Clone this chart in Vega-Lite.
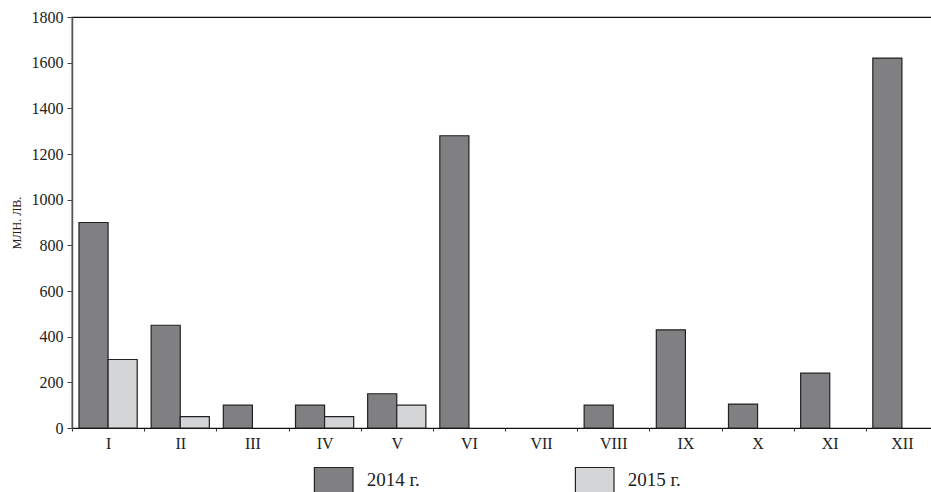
{
  "$schema": "https://vega.github.io/schema/vega-lite/v6.json",
  "autosize": {"type": "none"},
  "padding": {"left": 72, "top": 17, "right": 0, "bottom": 64},
  "width": 866,
  "height": 411,
  "background": "white",
  "config": {
    "font": "Liberation Serif",
    "view": {"stroke": "#111", "strokeWidth": 1.2}
  },
  "data": {
    "values": [
      {"month": "I", "year": "2014 г.", "value": 900},
      {"month": "I", "year": "2015 г.", "value": 300},
      {"month": "II", "year": "2014 г.", "value": 450},
      {"month": "II", "year": "2015 г.", "value": 50},
      {"month": "III", "year": "2014 г.", "value": 100},
      {"month": "IV", "year": "2014 г.", "value": 100},
      {"month": "IV", "year": "2015 г.", "value": 50},
      {"month": "V", "year": "2014 г.", "value": 150},
      {"month": "V", "year": "2015 г.", "value": 100},
      {"month": "VI", "year": "2014 г.", "value": 1280},
      {"month": "VIII", "year": "2014 г.", "value": 100},
      {"month": "IX", "year": "2014 г.", "value": 430},
      {"month": "X", "year": "2014 г.", "value": 105},
      {"month": "XI", "year": "2014 г.", "value": 240},
      {"month": "XII", "year": "2014 г.", "value": 1620}
    ]
  },
  "mark": {"type": "bar", "stroke": "#222", "strokeWidth": 1.2},
  "encoding": {
    "x": {
      "field": "month",
      "type": "nominal",
      "sort": ["I", "II", "III", "IV", "V", "VI", "VII", "VIII", "IX", "X", "XI", "XII"],
      "scale": {"domain": ["I", "II", "III", "IV", "V", "VI", "VII", "VIII", "IX", "X", "XI", "XII"], "paddingInner": 0, "paddingOuter": 0},
      "axis": {
        "title": null,
        "labelAngle": 0,
        "tickBand": "extent",
        "tickSize": 3,
        "tickColor": "#333",
        "domainColor": "#111",
        "domainWidth": 1.2,
        "labelFont": "Liberation Serif",
        "labelFontSize": 16,
        "labelColor": "#222",
        "labelPadding": 4
      }
    },
    "xOffset": {
      "field": "year",
      "type": "nominal",
      "scale": {"domain": ["2014 г.", "2015 г."], "paddingInner": 0, "paddingOuter": 0.24}
    },
    "y": {
      "field": "value",
      "type": "quantitative",
      "scale": {"domain": [0, 1800], "nice": false},
      "axis": {
        "title": "МЛН. ЛВ.",
        "titleFont": "Liberation Serif",
        "titleFontSize": 12,
        "titleFontWeight": "normal",
        "titleColor": "#222",
        "titlePadding": 8,
        "format": "d",
        "values": [0, 200, 400, 600, 800, 1000, 1200, 1400, 1600, 1800],
        "grid": false,
        "tickSize": 5,
        "tickColor": "#444",
        "domainColor": "#555",
        "domainWidth": 1.5,
        "labelFont": "Liberation Serif",
        "labelFontSize": 16,
        "labelColor": "#222",
        "labelPadding": 4
      }
    },
    "fill": {
      "field": "year",
      "type": "nominal",
      "scale": {"domain": ["2014 г.", "2015 г."], "range": ["#808083", "#d4d5d7"]},
      "legend": {
        "title": null,
        "orient": "none",
        "direction": "horizontal",
        "columns": 2,
        "columnPadding": 152,
        "legendX": 241.7,
        "legendY": 443,
        "padding": 0,
        "symbolType": "M-1,-0.65H1V0.65H-1Z",
        "symbolSize": 1490,
        "symbolStrokeColor": "#222",
        "symbolStrokeWidth": 1.2,
        "symbolOpacity": 1,
        "labelFont": "Liberation Serif",
        "labelFontSize": 19,
        "labelColor": "#222",
        "labelOffset": 13
      }
    }
  }
}
